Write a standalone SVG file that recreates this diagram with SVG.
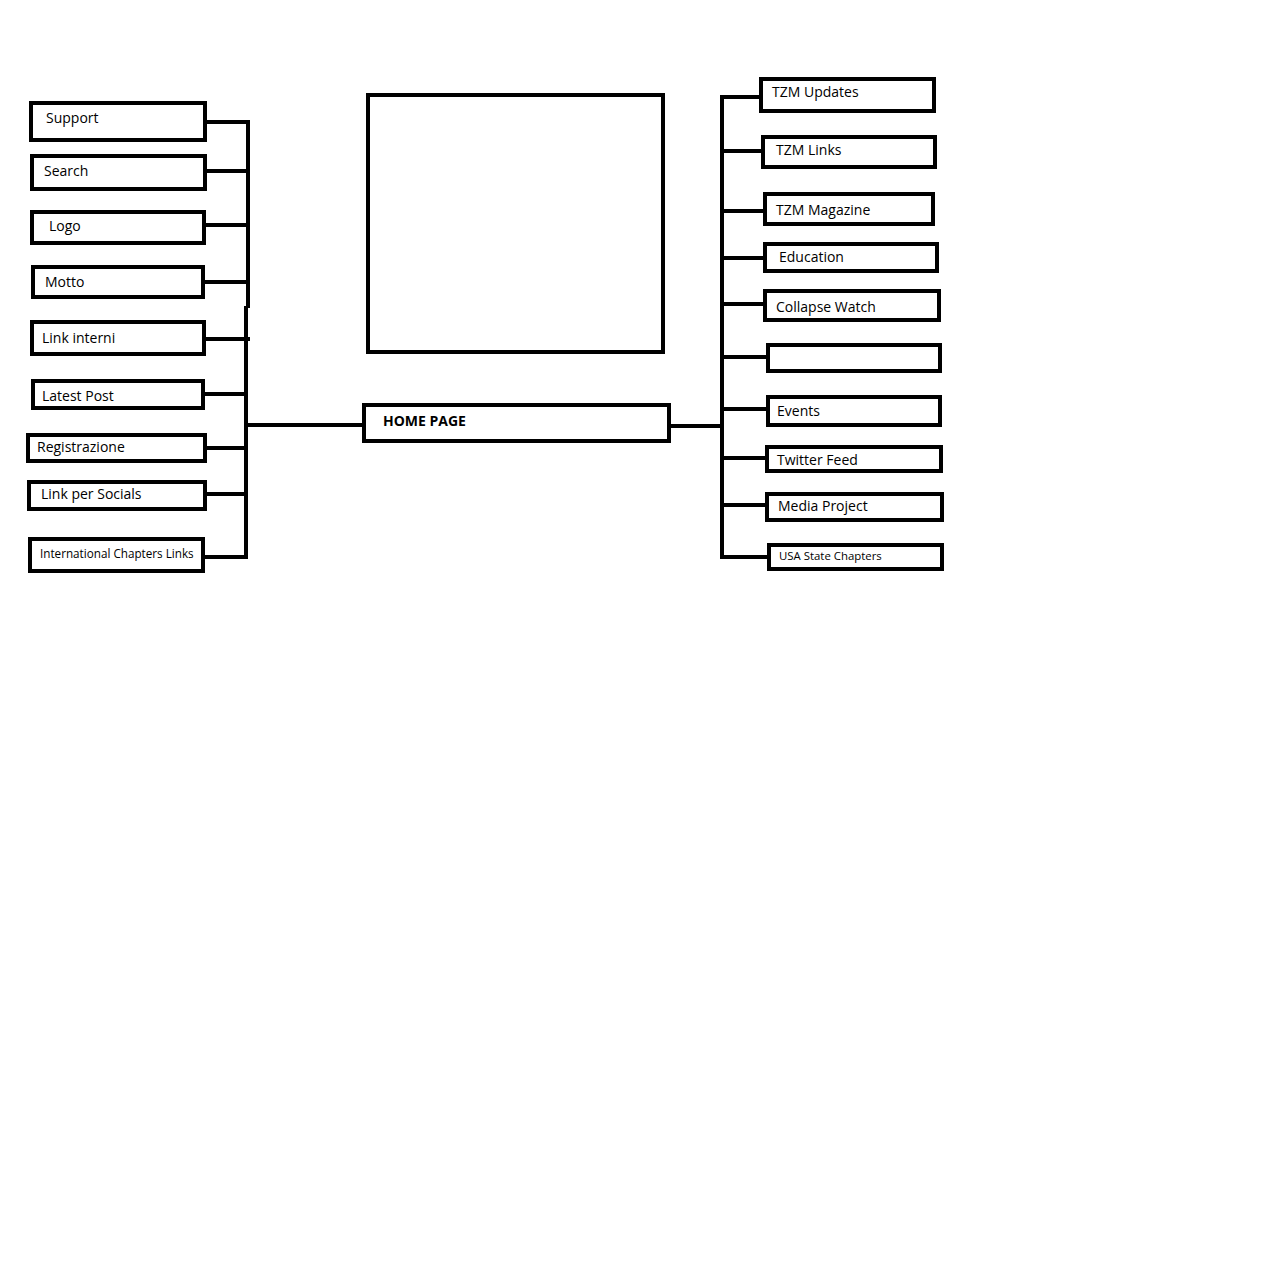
<svg xmlns="http://www.w3.org/2000/svg" width="1280" height="1280" viewBox="0 0 1280 1280">
<style>
.b{fill:#fff;stroke:#000;stroke-width:4}
.c{fill:none;stroke:#000;stroke-width:4}
text{font-family:"Open Sans","Noto Sans","DejaVu Sans",sans-serif;font-size:14px;fill:#000}
.s{font-size:11.7px}
.u{font-size:11.4px}
.h{font-weight:bold}
</style>
<rect width="1280" height="1280" fill="#fff"/>
<g id="connectors">
<path class="c" d="M248 121V308M246 306V559M206 122H250M206 171H250M204 225H248M204 282H250M206 339H250M204 394H248M206 448H248M206 494H248M204 557H248M246 425H364"/>
<path class="c" d="M722 95V559M669 426H722M720 97H761M720 151H763M720 211H765M720 258H765M720 304H765M720 357H768M720 409H768M720 458H767M720 505H767M720 557H769"/>
</g>
<g id="frame"><rect class="b" x="368" y="95" width="295" height="257"/></g>
<g id="home"><rect class="b" x="364" y="405" width="305" height="36"/><text class="h" x="383" y="426">HOME PAGE</text></g>
<g id="support"><rect class="b" x="31" y="103" width="174" height="37"/><text x="46" y="123">Support</text></g>
<g id="search"><rect class="b" x="32" y="156" width="173" height="33"/><text x="44" y="176">Search</text></g>
<g id="logo"><rect class="b" x="32" y="212" width="172" height="31"/><text x="49" y="231">Logo</text></g>
<g id="motto"><rect class="b" x="33" y="267" width="170" height="30"/><text x="45" y="287">Motto</text></g>
<g id="link-interni"><rect class="b" x="32" y="322" width="172" height="32"/><text x="42" y="343">Link interni</text></g>
<g id="latest-post"><rect class="b" x="33" y="381" width="170" height="27"/><text x="42" y="401">Latest Post</text></g>
<g id="registrazione"><rect class="b" x="28" y="435" width="177" height="26"/><text x="37" y="452">Registrazione</text></g>
<g id="link-socials"><rect class="b" x="29" y="482" width="176" height="27"/><text x="41" y="499">Link per Socials</text></g>
<g id="international"><rect class="b" x="30" y="539" width="173" height="32"/><text class="s" x="40" y="558">International Chapters Links</text></g>
<g id="tzm-updates"><rect class="b" x="761" y="79" width="173" height="32"/><text x="772" y="97">TZM Updates</text></g>
<g id="tzm-links"><rect class="b" x="763" y="137" width="172" height="30"/><text x="776" y="155">TZM Links</text></g>
<g id="tzm-magazine"><rect class="b" x="765" y="194" width="168" height="30"/><text x="776" y="215">TZM Magazine</text></g>
<g id="education"><rect class="b" x="765" y="244" width="172" height="27"/><text x="779" y="262">Education</text></g>
<g id="collapse-watch"><rect class="b" x="765" y="291" width="174" height="29"/><text x="776" y="312">Collapse Watch</text></g>
<g id="blank"><rect class="b" x="768" y="345" width="172" height="26"/></g>
<g id="events"><rect class="b" x="768" y="397" width="172" height="28"/><text x="777" y="416">Events</text></g>
<g id="twitter-feed"><rect class="b" x="767" y="447" width="174" height="24"/><text x="777" y="465">Twitter Feed</text></g>
<g id="media-project"><rect class="b" x="767" y="494" width="175" height="26"/><text x="778" y="511">Media Project</text></g>
<g id="usa-chapters"><rect class="b" x="769" y="545" width="173" height="24"/><text class="u" x="779" y="560">USA State Chapters</text></g>
</svg>
